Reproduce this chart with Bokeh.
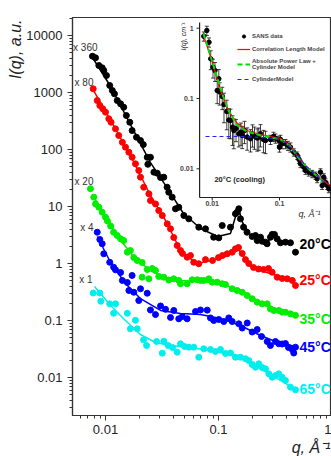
import math
from bokeh.plotting import figure
from bokeh.models import (Range1d, LogScale, FixedTicker, CustomJSTickFormatter, Label, Title,
                          ColumnDataSource, Legend, LegendItem)
from bokeh.core.properties import value
from bokeh.embed import file_html
from bokeh.resources import INLINE

# ---------------- main panel data (scaled curves) ----------------
black_q = [0.00767,0.00816,0.00873,0.00935,0.00966,0.0102,0.0109,0.0115,0.0120,0.0127,0.0136,0.0145,0.0153,0.0164,0.0172,0.0188,0.0204,0.0216,0.0234,0.0250,0.0237,0.0268,0.0287,0.0307,0.0328,0.0351,0.0363,0.0389,0.0416,0.0445,0.0494,0.0546,0.0669,0.0767,0.0906,0.1006,0.1079,0.1276,0.1413,0.1463,0.1513,0.1565,0.1667,0.1788,0.1986,0.2124,0.2200,0.2352,0.2431,0.2604,0.2693,0.2883,0.2984,0.313,0.3301,0.3535,0.3914,0.4334,0.4799]
black_I = [4335,4065,2976,2712,2432,1987,1327,1084,948,724,634,552,395,301,215,164,144,122,73,73,55,40,38.4,32.3,32.7,21.8,17.8,14.6,9.1,9.7,6.95,6.08,4.34,4.06,2.89,2.82,4.64,4.34,7.45,7.94,9.12,6.08,4.34,3.54,2.98,3.10,2.53,2.89,2.46,2.37,2.22,2.89,3.23,3.23,2.71,2.31,2.37,2.31,1.58]
black_fit_q = [0.00767,0.0111,0.0166,0.0250,0.0340,0.0490,0.0693,0.0980,0.1276,0.1442,0.1504,0.1630,0.1918,0.2698,0.3006,0.3535,0.4334]
black_fit_I = [4110,1274,275,59,23.4,7.53,4.11,2.98,3.36,7.53,9.22,5.24,3.10,2.37,2.98,2.53,2.34]

red_q = [0.00778,0.00845,0.00891,0.00946,0.0100,0.0107,0.0112,0.01226,0.0131,0.0141,0.01503,0.0161,0.0172,0.01842,0.0197,0.0204,0.0218,0.0242,0.0250,0.0277,0.0296,0.0318,0.0352,0.0376,0.0402,0.0431,0.0461,0.0480,0.0528,0.0565,0.0604,0.0669,0.0767,0.0885,0.1000,0.1084,0.1194,0.1322,0.1413,0.1504,0.1621,0.1733,0.1854,0.2040,0.2261,0.2503,0.2769,0.2985,0.3306,0.3662,0.4057,0.4493,0.4799]
red_I = [1161,724,592,518,451,346,301,231,176,134,110,89.7,73.3,56.1,42.8,32.7,21.8,16.7,12.7,11.1,8.51,6.95,4.96,4.06,2.86,2.07,1.69,1.50,1.29,1.38,1.05,0.99,1.17,1.13,1.27,1.38,1.48,1.58,1.81,1.91,1.50,1.17,1.00,0.851,0.801,0.785,0.817,0.703,0.575,0.546,0.539,0.504,0.411]
red_fit_q = [0.00767,0.0111,0.01664,0.0250,0.0340,0.0461,0.0638,0.0940,0.1225,0.1463,0.1918,0.2503,0.3535,0.4799]
red_fit_I = [1175,323,78.5,15.6,5.68,1.69,0.99,1.17,1.38,1.91,0.885,0.724,0.592,0.504]

green_q = [0.00736,0.00788,0.00816,0.00873,0.00935,0.0100,0.0104,0.0111,0.0118,0.0127,0.0136,0.0145,0.0156,0.0166,0.0178,0.0191,0.0211,0.0234,0.0259,0.0211,0.0242,0.0277,0.0296,0.0328,0.0363,0.0402,0.0445,0.0461,0.0528,0.0585,0.0648,0.0693,0.0741,0.0821,0.0879,0.0974,0.1079,0.1153,0.1322,0.1463,0.1621,0.1795,0.1986,0.2199,0.2431,0.2698,0.2883,0.3084,0.3417,0.3662,0.3914,0.4334,0.4799]
green_I = [20.5,14.6,11.1,9.72,7.94,6.49,5.57,4.55,3.54,3.10,2.71,2.53,1.58,1.69,1.27,1.13,1.04,0.785,0.817,0.575,0.539,0.754,0.592,0.575,0.514,0.539,0.504,0.441,0.441,0.518,0.518,0.504,0.504,0.539,0.470,0.470,0.441,0.428,0.360,0.336,0.313,0.275,0.240,0.210,0.196,0.196,0.160,0.150,0.150,0.140,0.140,0.131,0.123]
green_fit_q = [0.00767,0.0100,0.0136,0.0184,0.0250,0.0340,0.0461,0.0693,0.1041,0.1565,0.2352,0.3535,0.4799]
green_fit_I = [15.6,6.95,2.53,1.22,0.754,0.568,0.504,0.483,0.446,0.336,0.207,0.150,0.127]

blue_q = [0.00845,0.00891,0.00935,0.00966,0.0109,0.0118,0.01226,0.0136,0.0141,0.0156,0.0172,0.0161,0.0178,0.0204,0.0234,0.0197,0.0250,0.0277,0.0307,0.0340,0.0376,0.0402,0.0445,0.0478,0.0528,0.0626,0.0693,0.0795,0.0849,0.0908,0.1006,0.1114,0.1233,0.1322,0.1513,0.1621,0.1795,0.1986,0.2199,0.2404,0.2698,0.2883,0.3192,0.3417,0.3662,0.3914,0.4161,0.4493,0.4799,0.4634]
blue_I = [3.54,2.64,2.22,1.48,1.05,0.861,0.774,0.695,0.504,0.464,0.616,0.336,0.313,0.360,0.301,0.224,0.153,0.127,0.180,0.157,0.113,0.150,0.107,0.117,0.107,0.144,0.153,0.152,0.111,0.100,0.104,0.096,0.111,0.096,0.0875,0.0738,0.0904,0.0628,0.0695,0.0524,0.0428,0.0364,0.0428,0.0390,0.0387,0.0395,0.0336,0.0310,0.0340,0.0269]
blue_fit_q = [0.00845,0.0111,0.0150,0.0204,0.0307,0.0461,0.0693,0.1041,0.1565,0.2352,0.3192,0.4799]
blue_fit_I = [2.98,1.04,0.446,0.243,0.150,0.133,0.127,0.108,0.0817,0.0546,0.0428,0.0350]

cyan_q = [0.00778,0.00891,0.00909,0.0109,0.01226,0.0118,0.0156,0.0184,0.0166,0.0191,0.0217,0.0231,0.0283,0.0328,0.0318,0.0359,0.0392,0.0431,0.0461,0.0500,0.0546,0.0604,0.0669,0.0741,0.0849,0.0940,0.1041,0.1153,0.1276,0.1413,0.1565,0.1733,0.1854,0.1986,0.2124,0.2275,0.2431,0.2604,0.2787,0.2985,0.3192,0.3417,0.3662,0.3914,0.4334,0.4799]
cyan_I = [0.303,0.303,0.218,0.196,0.196,0.134,0.134,0.101,0.0715,0.0715,0.0458,0.0364,0.0428,0.0434,0.0267,0.0364,0.0336,0.0278,0.0390,0.0350,0.0340,0.0340,0.0227,0.0319,0.0310,0.0286,0.0310,0.0264,0.0269,0.0227,0.0227,0.0213,0.0199,0.0169,0.0152,0.0174,0.0150,0.0142,0.0116,0.0101,0.0108,0.0116,0.0101,0.00886,0.00676,0.00608]
cyan_fit_q = [0.0080,0.0111,0.0150,0.0204,0.0277,0.0376,0.0565,0.0849,0.1276,0.1918,0.2883,0.4334]
cyan_fit_I = [0.394,0.183,0.100,0.0568,0.0411,0.0364,0.0336,0.0298,0.0254,0.0183,0.0113,0.00696]

series_colors = ["#000000", "#ff0000", "#00ee00", "#0000ff", "#00eeee"]
temp_labels = ["20°C", "25°C", "35°C", "45°C", "65°C"]
temp_label_I = [2.24, 0.504, 0.108, 0.0336, 0.0064]
mult_labels = ["x 360", "x 80", "x 20", "x 4", "x 1"]
mult_label_q = [0.00850, 0.00783, 0.00783, 0.00783, 0.00767]
mult_label_I = [6150, 1497, 27.5, 4.28, 0.524]

x_ticks = [0.01, 0.1, 1]
y_ticks = [0.01, 0.1, 1, 10, 100, 1000, 10000]

# ---------------- inset data (20 °C cooling, absolute units) ----------------
inset_q = [0.00750,0.00832,0.00896,0.00951,0.01028,0.0110,0.01187,0.01292,0.01253,0.01410,0.01497,0.01647,0.01766,0.01871,0.02004,0.02096,0.02259,0.02485,0.02679,0.02792,0.0302,0.0331,0.0371,0.0397,0.0425,0.0467,0.0492,0.0522,0.0578,0.0619,0.0735,0.0815,0.0873,0.0977,0.1035,0.1096,0.1000,0.1228,0.1337,0.1456,0.1630,0.1831,0.1948,0.2050,0.2296,0.2432,0.2723,0.3058,0.3427,0.3631,0.4065,0.4306,0.4550,0.4819,0.5113,0.5407]
inset_I = [0.769,0.928,0.632,0.367,0.279,0.250,0.130,0.124,0.191,0.107,0.0822,0.0653,0.0494,0.0486,0.0391,0.0351,0.0374,0.0315,0.0332,0.0298,0.0351,0.0283,0.0267,0.0313,0.0291,0.0274,0.0282,0.0315,0.0261,0.0253,0.0261,0.0288,0.0272,0.0253,0.0261,0.0227,0.0203,0.0227,0.0214,0.0203,0.0172,0.0155,0.0136,0.0118,0.01054,0.00946,0.00895,0.00849,0.00803,0.00721,0.00895,0.00578,0.00760,0.00644,0.00578,0.00519]
inset_rel_err = [0.15,0.15,0.15,0.3,0.3,0.3,0.35,0.35,0.35,0.35,0.45,0.45,0.45,0.45,0.45,0.45,0.35,0.35,0.35,0.35,0.35,0.35,0.35,0.35,0.35,0.35,0.35,0.35,0.35,0.35,0.15,0.15,0.15,0.15,0.15,0.15,0.15,0.15,0.15,0.15,0.12,0.12,0.12,0.12,0.12,0.12,0.12,0.12,0.12,0.12,0.12,0.12,0.12,0.12,0.12,0.12]
corr_q = [0.00743,0.0101,0.01327,0.01745,0.02296,0.0324,0.0522,0.1035,0.1456,0.2050,0.2884,0.4508,0.5535]
corr_I = [0.787,0.325,0.130,0.0675,0.0456,0.0351,0.0308,0.0270,0.0214,0.0131,0.00946,0.00682,0.0058]
apl_q = [0.00743,0.0101,0.01327,0.01745,0.02296,0.0324,0.0522,0.1035,0.1456,0.2050,0.2884,0.4830]
apl_I = [0.841,0.325,0.139,0.0675,0.0427,0.0340,0.0298,0.0261,0.0208,0.0131,0.00946,0.00618]
cyl_q = [0.00795,0.0263,0.0522,0.0873,0.1228,0.1728,0.2432,0.3427,0.4830]
cyl_I = [0.0288,0.0288,0.0279,0.0270,0.0237,0.0171,0.0111,0.0083,0.00618]
inset_x_ticks = [0.01, 0.1]
inset_y_ticks = [1, 0.1, 0.01]

FONT = "Liberation Sans"

p = figure(width=331, height=456, x_axis_type="log", y_axis_type="log",
           x_range=Range1d(0.005105, 1.0), y_range=Range1d(0.002154, 20700),
           output_backend="svg", toolbar_location=None,
           min_border_left=72, min_border_right=0, min_border_top=17, min_border_bottom=41)
p.grid.visible = False
p.outline_line_color = "#333333"
p.outline_line_width = 1.2
p.background_fill_color = "white"
p.border_fill_color = "white"

x_minor = [m * 10.0 ** e for e in (-3, -2, -1) for m in range(2, 10)]
y_minor = [m * 10.0 ** e for e in range(-3, 5) for m in range(2, 10)]
p.xaxis.ticker = FixedTicker(ticks=x_ticks, minor_ticks=x_minor)
p.yaxis.ticker = FixedTicker(ticks=y_ticks, minor_ticks=y_minor)
fmt = CustomJSTickFormatter(code="return tick.toString();")
for ax in (p.xaxis[0], p.yaxis[0]):
    ax.formatter = fmt
    ax.major_tick_in = 0
    ax.major_tick_out = 5
    ax.minor_tick_in = 0
    ax.minor_tick_out = 3
    ax.axis_line_color = "#333333"
    ax.axis_line_width = 1.2
    ax.major_tick_line_color = "#333333"
    ax.minor_tick_line_color = "#333333"
    ax.major_label_text_font = FONT
    ax.major_label_text_font_size = "13px"
    ax.major_label_text_color = "#222222"
p.xaxis.major_label_standoff = 4
p.yaxis.major_label_standoff = 5

# axis titles (placed toward the top / right as in the original)
p.add_layout(Title(text="I(q), a.u.", align="right", text_font=FONT, text_font_style="italic",
                   text_font_size="16px", text_color="#222222", standoff=0, offset=2), "left")
p.add_layout(Title(text="q, Å⁻¹", align="right", text_font=FONT, text_font_style="italic",
                   text_font_size="16px", text_color="#222222", standoff=0, offset=1), "below")

series = [
    (black_q, black_I, black_fit_q, black_fit_I),
    (red_q, red_I, red_fit_q, red_fit_I),
    (green_q, green_I, green_fit_q, green_fit_I),
    (blue_q, blue_I, blue_fit_q, blue_fit_I),
    (cyan_q, cyan_I, cyan_fit_q, cyan_fit_I),
]
for (q, I, fq, fI), c in zip(series, series_colors):
    p.line(fq, fI, line_color=c, line_width=1.5)
    p.scatter(q, I, size=6, color=c)

# temperature labels and scale factors
label_src = ColumnDataSource(dict(x=[0.521] * 5, y=temp_label_I, t=temp_labels, c=series_colors))
p.text(x="x", y="y", text="t", text_color="c", source=label_src, text_font=value(FONT),
       text_font_style="bold", text_font_size="14px", text_baseline="middle", text_align="left")
mult_src = ColumnDataSource(dict(x=mult_label_q, y=mult_label_I, t=mult_labels))
p.text(x="x", y="y", text="t", source=mult_src, text_font=value(FONT),
       text_font_size="10px", text_color="#333333", text_baseline="middle", text_align="right")

# ---------------- inset (own log scales mapped onto the upper right) ----------------
p.extra_x_ranges = {"ix": Range1d(8.40e-5, 0.5925)}
p.extra_x_scales = {"ix": LogScale()}
p.extra_y_ranges = {"iy": Range1d(3.10e-6, 1.42)}
p.extra_y_scales = {"iy": LogScale()}
R = dict(x_range_name="ix", y_range_name="iy")

ax_q, ax_I = 0.0065, 0.00391
p.segment(x0=[ax_q, ax_q], y0=[ax_I, ax_I], x1=[ax_q, 0.7], y1=[1.205, ax_I],
          line_color="#222222", line_width=1.2, **R)
p.ray(x=[ax_q] * 3, y=inset_y_ticks, length=3, length_units="screen", angle=math.pi,
      line_color="#222222", line_width=1, **R)
p.ray(x=inset_x_ticks, y=[ax_I] * 2, length=3, length_units="screen", angle=-math.pi / 2,
      line_color="#222222", line_width=1, **R)
p.text(x=[ax_q] * 3, y=inset_y_ticks, text=["1", "0.1", "0.01"], x_offset=-6,
       text_align="right", text_baseline="middle", text_font=value(FONT),
       text_font_size="7px", text_font_style="bold", text_color="#444444", **R)
p.text(x=inset_x_ticks, y=[ax_I] * 2, text=["0.01", "0.1"], y_offset=4,
       text_align="center", text_baseline="top", text_font=value(FONT),
       text_font_size="7px", text_font_style="bold", text_color="#444444", **R)

lo = [v * (1 - e) for v, e in zip(inset_I, inset_rel_err)]
up = [v * (1 + e) for v, e in zip(inset_I, inset_rel_err)]
p.segment(x0=inset_q, y0=lo, x1=inset_q, y1=up, line_color="#111111", line_width=0.8, **R)
p.scatter(inset_q, lo, marker="dash", size=4, line_color="#111111", line_width=0.8, **R)
p.scatter(inset_q, up, marker="dash", size=4, line_color="#111111", line_width=0.8, **R)
r_data = p.scatter(inset_q, inset_I, size=4.5, color="#000000", **R)
r_corr = p.line(corr_q, corr_I, line_color="#ff0000", line_width=1.2, **R)
r_apl = p.line(apl_q, apl_I, line_color="#00dd00", line_width=2, line_dash="5 3", **R)
r_cyl = p.line(cyl_q, cyl_I, line_color="#2222ff", line_width=1.2, line_dash="4 3", **R)

legend = Legend(items=[
    LegendItem(label="SANS data", renderers=[r_data]),
    LegendItem(label="Correlation Length Model", renderers=[r_corr]),
    LegendItem(label="Absolute Power Law +\nCylinder Model", renderers=[r_apl]),
    LegendItem(label="CylinderModel", renderers=[r_cyl]),
], location=(165, 332), background_fill_alpha=0, border_line_alpha=0,
    label_text_font=FONT, label_text_font_size="6px", label_text_font_style="bold",
    label_text_color="#444444", glyph_width=13, glyph_height=8, label_height=8,
    label_standoff=2, spacing=5, padding=0, margin=0)
p.add_layout(legend, "center")

p.add_layout(Label(x=0.0108, y=0.00705, text="20°C (cooling)", text_baseline="middle",
                   text_font=FONT, text_font_style="bold", text_font_size="7.5px",
                   text_color="#222222", **R))
p.add_layout(Label(x=0.00375, y=1.205, text="I(q), cm⁻¹", angle=math.pi / 2,
                   text_align="right", text_baseline="middle", text_font=FONT,
                   text_font_style="italic", text_font_size="7px", text_color="#222222", **R))
p.add_layout(Label(x=0.191, y=0.00231, text="q, Å⁻¹", text_baseline="middle",
                   text_font=FONT, text_font_style="italic", text_font_size="9px",
                   text_color="#222222", **R))

open("out.html", "w").write(file_html(p, INLINE))
